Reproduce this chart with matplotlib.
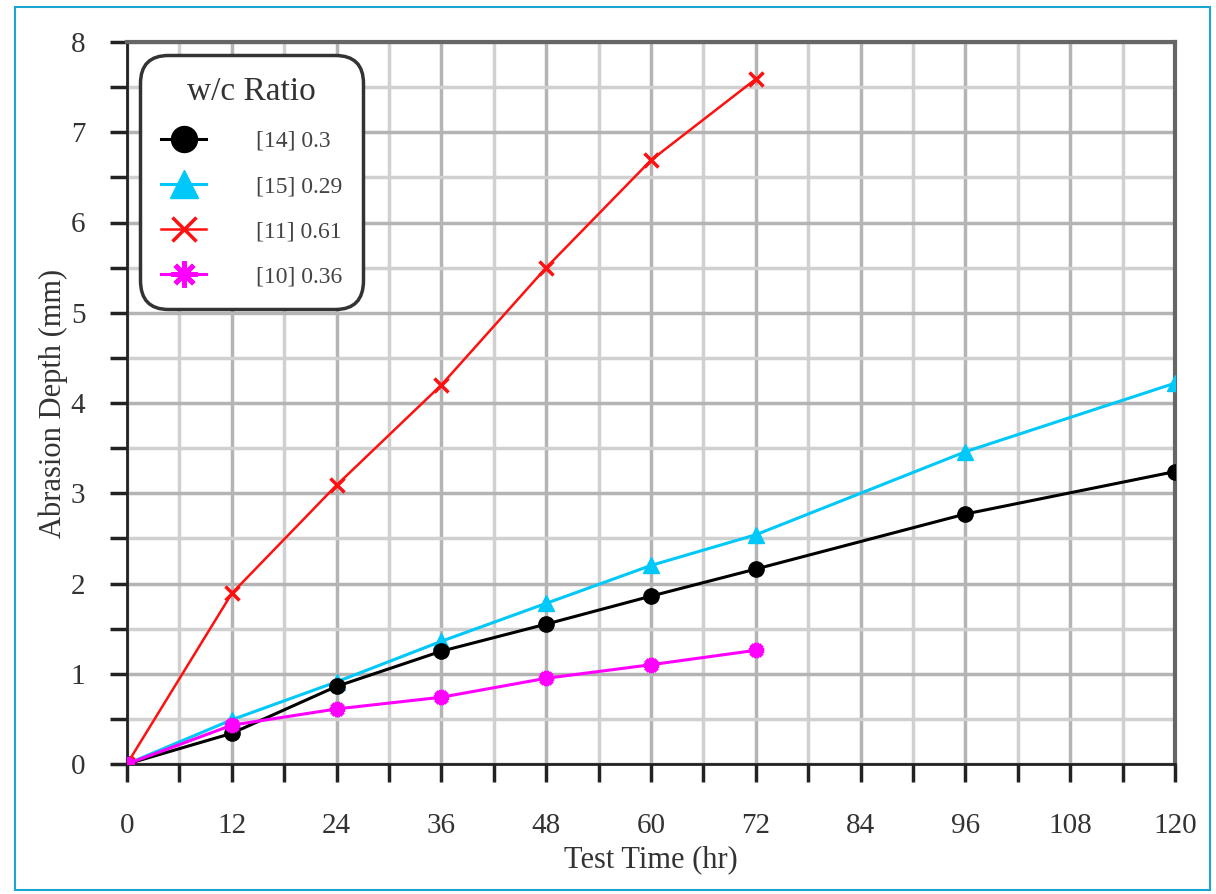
import matplotlib.pyplot as plt
from matplotlib.patches import Rectangle
import numpy as np

plt.rcParams['font.family'] = ['Liberation Serif', 'DejaVu Serif']

time_a = [0, 12, 24, 36, 48, 60, 72, 96, 120]
time_b = [0, 12, 24, 36, 48, 60, 72]
depth_14 = [0, 0.34, 0.86, 1.25, 1.55, 1.86, 2.16, 2.77, 3.24]
depth_15 = [0, 0.49, 0.91, 1.36, 1.78, 2.20, 2.54, 3.46, 4.22]
depth_11 = [0, 1.89, 3.09, 4.20, 5.50, 6.69, 7.59]
depth_10 = [0, 0.43, 0.61, 0.74, 0.95, 1.10, 1.26]
labels = ['[14] 0.3', '[15] 0.29', '[11] 0.61', '[10] 0.36']

fig = plt.figure(figsize=(12.16, 8.94), dpi=100)
ax = fig.add_axes([127 / 1216, 1 - 764 / 894, (1175 - 127) / 1216, (764 - 42) / 894])

# cyan frame round the picture
fig.patches.append(Rectangle((15 / 1216, 4 / 894), 1195 / 1216, 883 / 894,
                             transform=fig.transFigure, fill=False,
                             edgecolor='#1aa6d0', lw=1.5))

ax.plot(time_a, depth_14, color='black', marker='o', ms=11, lw=2.2, label=labels[0], zorder=5)
ax.plot(time_a, depth_15, color='#00c8f8', marker='^', ms=12, lw=2.2, label=labels[1], zorder=4)
ax.plot(time_b, depth_11, color='#ff1010', marker='x', ms=10, mew=2.5, lw=1.8, label=labels[2], zorder=6)
ax.plot(time_b, depth_10, color='#ff00ff', marker=(8, 2, 0), ms=11, mew=3.5, lw=2.2, label=labels[3], zorder=7)

ax.set_xlim(0, 120)
ax.set_ylim(0, 8)
ax.set_xticks(np.arange(0, 121, 12))
ax.set_xticks(np.arange(0, 121, 6), minor=True)
ax.set_yticks(np.arange(0, 9, 1))
ax.set_yticks(np.arange(0, 8.01, 0.5), minor=True)
ax.grid(which='major', color='#b4b4b4', lw=2.5)
ax.grid(which='minor', color='#d0d0d0', lw=2.5)
ax.set_axisbelow(True)

ax.tick_params(which='both', direction='out', width=2.5, color='#222222', length=13, labelsize=21, pad=22,
               labelcolor='#333333')
ax.tick_params(axis='y', which='both', length=12, pad=18)
for s in ['left', 'bottom']:
    ax.spines[s].set_linewidth(2)
    ax.spines[s].set_color('#222222')
for s in ['top', 'right']:
    ax.spines[s].set_linewidth(3)
    ax.spines[s].set_color('#666666')

ax.set_xlabel('Test Time (hr)', fontsize=22, labelpad=5, color='#333333')
ax.set_ylabel('Abrasion Depth (mm)', fontsize=22, labelpad=2, color='#333333')

leg = ax.legend(title='w/c Ratio', loc='upper left', bbox_to_anchor=(13 / 1048, 1 - 13 / 722),
                borderaxespad=0, fontsize=17, title_fontsize=24, frameon=True, fancybox=True,
                edgecolor='#333333', framealpha=1, borderpad=0.9, labelspacing=1.0,
                handlelength=1.9, handletextpad=2.1, markerscale=1.7)
leg.get_frame().set_linewidth(2.5)
leg.get_frame().set_boxstyle('round', pad=0, rounding_size=1.2)
for t in leg.get_texts():
    t.set_color('#444444')
leg.get_title().set_color('#333333')

fig.savefig('out.png', dpi=100)
